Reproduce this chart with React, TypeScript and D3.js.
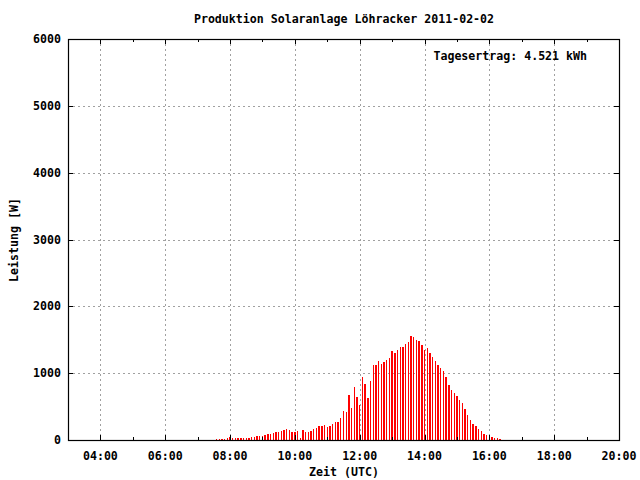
import { useEffect, useRef } from "react";
import * as d3 from "d3";

const TITLE = "Produktion Solaranlage Löhracker 2011-02-02";
const YIELD_LABEL = "Tagesertrag: 4.521 kWh";

// 5-minute samples, UTC
const TIMES = [
  "07:35", "07:40", "07:45", "07:50", "07:55",
  "08:00", "08:05", "08:10", "08:15", "08:20", "08:25", "08:30", "08:35", "08:40", "08:45", "08:50", "08:55",
  "09:00", "09:05", "09:10", "09:15", "09:20", "09:25", "09:30", "09:35", "09:40", "09:45", "09:50", "09:55",
  "10:00", "10:05", "10:10", "10:15", "10:20", "10:25", "10:30", "10:35", "10:40", "10:45", "10:50", "10:55",
  "11:00", "11:05", "11:10", "11:15", "11:20", "11:25", "11:30", "11:35", "11:40", "11:45", "11:50", "11:55",
  "12:00", "12:05", "12:10", "12:15", "12:20", "12:25", "12:30", "12:35", "12:40", "12:45", "12:50", "12:55",
  "13:00", "13:05", "13:10", "13:15", "13:20", "13:25", "13:30", "13:35", "13:40", "13:45", "13:50", "13:55",
  "14:00", "14:05", "14:10", "14:15", "14:20", "14:25", "14:30", "14:35", "14:40", "14:45", "14:50", "14:55",
  "15:00", "15:05", "15:10", "15:15", "15:20", "15:25", "15:30", "15:35", "15:40", "15:45", "15:50", "15:55",
  "16:00", "16:05", "16:10", "16:15", "16:20",
];

// power in W
const WATTS = [
  15, 15, 15, 15, 30,
  50, 30, 30, 30, 30, 30, 30, 30, 45, 45, 60, 60,
  60, 75, 90, 90, 105, 120, 120, 135, 150, 165, 150, 120,
  120, 135, 30, 150, 120, 120, 135, 165, 180, 210, 210, 225,
  195, 210, 240, 270, 270, 330, 435, 420, 675, 480, 795, 645,
  525, 945, 840, 630, 885, 1125, 1125, 1185, 1140, 1170, 1200, 1230,
  1335, 1305, 1350, 1395, 1395, 1440, 1470, 1560, 1545, 1500, 1485, 1425,
  1350, 1380, 1305, 1245, 1185, 1125, 1080, 1035, 945, 825, 750, 705,
  660, 600, 555, 465, 375, 300, 240, 210, 165, 135, 90, 75,
  60, 45, 30, 30, 15,
];

const X_TICKS = ["04:00", "06:00", "08:00", "10:00", "12:00", "14:00", "16:00", "18:00", "20:00"];
const X_MINOR = ["05:00", "07:00", "09:00", "11:00", "13:00", "15:00", "17:00", "19:00"];
const Y_TICKS = [0, 1000, 2000, 3000, 4000, 5000, 6000];

const toMin = (s: string) => {
  const [h, m] = s.split(":").map(Number);
  return h * 60 + m;
};

const FONT = "'DejaVu Sans Mono', monospace";

export default function App() {
  const svgRef = useRef<SVGSVGElement>(null);

  useEffect(() => {
    if (!svgRef.current) return;
    const svg = d3.select(svgRef.current);
    svg.selectAll("*").remove();

    const left = 68, right = 619, top = 39, bottom = 440;

    const x = d3.scaleLinear().domain([toMin("03:00"), toMin("20:00")]).range([left, right]);
    const y = d3.scaleLinear().domain([0, 6000]).range([bottom, top]);

    svg.append("rect").attr("width", 640).attr("height", 480).attr("fill", "#fff");

    // grid
    X_TICKS.slice(0, -1).forEach((t) => {
      const px = Math.round(x(toMin(t))) + 0.5;
      svg.append("line")
        .attr("x1", px).attr("x2", px).attr("y1", top).attr("y2", bottom)
        .attr("stroke", "#a0a0a0").attr("stroke-dasharray", "2,3");
    });
    Y_TICKS.slice(1, -1).forEach((v) => {
      const py = Math.round(y(v)) + 0.5;
      svg.append("line")
        .attr("x1", left).attr("x2", right).attr("y1", py).attr("y2", py)
        .attr("stroke", "#a0a0a0").attr("stroke-dasharray", "2,3");
    });

    // impulses
    svg.append("g")
      .selectAll("rect")
      .data(WATTS)
      .join("rect")
      .attr("x", (_, i) => x(toMin(TIMES[i])) - 0.7)
      .attr("y", (d) => Math.round(y(d)))
      .attr("width", 1.4)
      .attr("height", (d) => bottom - Math.round(y(d)))
      .attr("fill", "#ff0000")
      .attr("shape-rendering", "crispEdges");

    // ticks (inward, mirrored)
    const tickG = svg.append("g").attr("stroke", "#000").attr("shape-rendering", "crispEdges");
    X_TICKS.forEach((t) => {
      const px = Math.round(x(toMin(t))) + 0.5;
      tickG.append("line").attr("x1", px).attr("x2", px).attr("y1", bottom).attr("y2", bottom - 5);
      tickG.append("line").attr("x1", px).attr("x2", px).attr("y1", top).attr("y2", top + 5);
    });
    X_MINOR.forEach((t) => {
      const px = Math.round(x(toMin(t))) + 0.5;
      tickG.append("line").attr("x1", px).attr("x2", px).attr("y1", bottom).attr("y2", bottom - 3);
      tickG.append("line").attr("x1", px).attr("x2", px).attr("y1", top).attr("y2", top + 3);
    });
    Y_TICKS.forEach((v) => {
      const py = Math.round(y(v)) + 0.5;
      tickG.append("line").attr("x1", left).attr("x2", left + 5).attr("y1", py).attr("y2", py);
      tickG.append("line").attr("x1", right).attr("x2", right - 5).attr("y1", py).attr("y2", py);
    });

    // border
    svg.append("rect")
      .attr("x", left + 0.5).attr("y", top + 0.5)
      .attr("width", right - left).attr("height", bottom - top)
      .attr("fill", "none").attr("stroke", "#000").attr("stroke-width", 1.2);

    const txt = (sel: d3.Selection<SVGTextElement, unknown, null, undefined>) =>
      sel.attr("font-family", FONT).attr("font-weight", "bold").attr("font-size", "11.6px").attr("fill", "#000");

    // tick labels
    Y_TICKS.forEach((v) => {
      svg.append("text").call(txt)
        .attr("x", left - 7).attr("y", y(v)).attr("dy", "0.35em")
        .attr("text-anchor", "end").text(String(v));
    });
    X_TICKS.forEach((t) => {
      svg.append("text").call(txt)
        .attr("x", x(toMin(t))).attr("y", 460)
        .attr("text-anchor", "middle").text(t);
    });

    // titles
    svg.append("text").call(txt).attr("x", 344).attr("y", 23).attr("text-anchor", "middle").text(TITLE);
    svg.append("text").call(txt).attr("x", 587).attr("y", 60).attr("text-anchor", "end").text(YIELD_LABEL);
    svg.append("text").call(txt).attr("x", 344).attr("y", 476).attr("text-anchor", "middle").text("Zeit (UTC)");
    svg.append("text").call(txt)
      .attr("transform", `translate(18,240) rotate(-90)`)
      .attr("text-anchor", "middle").text("Leistung [W]");
  }, []);

  return (
    <svg
      ref={svgRef}
      width={640}
      height={480}
      style={{ position: "absolute", left: 0, top: 0 }}
    />
  );
}
